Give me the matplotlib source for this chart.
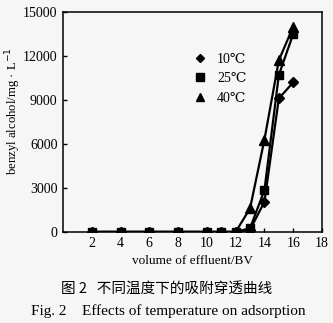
import matplotlib
matplotlib.use('Agg')
import matplotlib.pyplot as plt

bv = [2, 4, 6, 8, 10, 11, 12, 13, 14, 15, 16]
c10 = [0, 0, 0, 0, 0, 0, 0, 150, 2050, 9100, 10200]
c25 = [0, 0, 0, 0, 0, 0, 0, 250, 2850, 10700, 13500]
c40 = [0, 0, 0, 0, 0, 0, 0, 1600, 6300, 11700, 14000]
labels = ['10\u2103', '25\u2103', '40\u2103']
xticks = [2, 4, 6, 8, 10, 12, 14, 16, 18]
yticks = [0, 3000, 6000, 9000, 12000, 15000]

serif = ['Liberation Serif', 'DejaVu Serif']
plt.rcParams['font.family'] = serif

bg = '#f6f6f6'
fig = plt.figure(figsize=(3.33, 3.23), dpi=100, facecolor=bg)
ax = fig.add_axes([0.189, 0.282, 0.778, 0.681])
ax.set_facecolor(bg)

ax.plot(bv, c10, color='black', lw=1.6, marker='D', ms=5, label=labels[0])
ax.plot(bv, c25, color='black', lw=1.6, marker='s', ms=6, label=labels[1])
ax.plot(bv, c40, color='black', lw=1.6, marker='^', ms=6.5, label=labels[2])

ax.set_xlim(0, 18)
ax.set_ylim(0, 15000)
ax.set_xticks(xticks)
ax.set_yticks(yticks)
ax.tick_params(direction='in', length=3, width=1, labelsize=10, pad=4)
for s in ax.spines.values():
    s.set_linewidth(1.1)

ax.set_xlabel('volume of effluent/BV', fontsize=9.5, labelpad=3)
ax.set_ylabel('benzyl alcohol/mg \u00b7 L$^{-1}$', fontsize=9.2)
ax.yaxis.set_label_coords(-0.155, 0.55)

ax.legend(loc='upper left', bbox_to_anchor=(0.45, 0.87), frameon=False,
          fontsize=10, handlelength=1.2, handletextpad=0.6, labelspacing=0.45,
          markerscale=0.9)
for h in ax.get_legend().legend_handles:
    h.set_linestyle('none')

fig.text(0.5, 0.105, '图 2   不同温度下的吸附穿透曲线', ha='center', va='center',
         fontsize=10.5, family=['Noto Sans CJK SC', 'DejaVu Sans'])
fig.text(0.505, 0.037, 'Fig. 2    Effects of temperature on adsorption', ha='center',
         va='center', fontsize=11)

fig.savefig('out.png', dpi=100, facecolor=bg)
